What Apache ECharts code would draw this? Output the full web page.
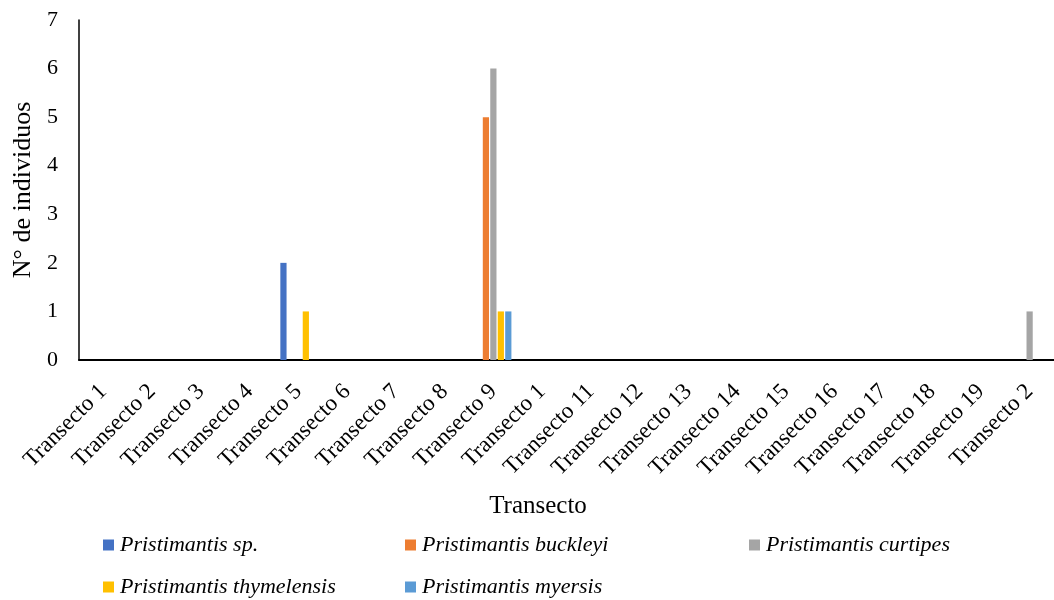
<!DOCTYPE html>
<html>
<head>
<meta charset="utf-8">
<script src="https://cdn.jsdelivr.net/npm/echarts@6/dist/echarts.min.js"></script>
<style>
html,body{margin:0;padding:0;background:#fff;}
#chart{width:1054px;height:600px;}
</style>
</head>
<body>
<div id="chart"></div>
<script>
const categories = ["Transecto 1","Transecto 2","Transecto 3","Transecto 4","Transecto 5","Transecto 6","Transecto 7","Transecto 8","Transecto 9","Transecto 1","Transecto 11","Transecto 12","Transecto 13","Transecto 14","Transecto 15","Transecto 16","Transecto 17","Transecto 18","Transecto 19","Transecto 2"];
const seriesNames = ["Pristimantis sp.","Pristimantis buckleyi","Pristimantis curtipes","Pristimantis thymelensis","Pristimantis myersis"];
const spValues        = [0,0,0,0,2,0,0,0,0,0,0,0,0,0,0,0,0,0,0,0];
const buckleyiValues  = [0,0,0,0,0,0,0,0,5,0,0,0,0,0,0,0,0,0,0,0];
const curtipesValues  = [0,0,0,0,0,0,0,0,6,0,0,0,0,0,0,0,0,0,0,1];
const thymelensisValues = [0,0,0,0,1,0,0,0,1,0,0,0,0,0,0,0,0,0,0,0];
const myersisValues   = [0,0,0,0,0,0,0,0,1,0,0,0,0,0,0,0,0,0,0,0];
const yTicks = [0,1,2,3,4,5,6,7];

const colors = ["#4472C4","#ED7D31","#A5A5A5","#FFC000","#5B9BD5"];
const allValues = [spValues,buckleyiValues,curtipesValues,thymelensisValues,myersisValues];
const font = "'Liberation Serif','Times New Roman',serif";

const legendPos = [[103,534],[405,534],[749,534],[103,576],[405,576]];

const chart = echarts.init(document.getElementById('chart'));
chart.setOption({
  animation:false,
  color: colors,
  textStyle:{fontFamily:font,color:'#000'},
  grid:{left:79, top:20, width:982, height:340, containLabel:false},
  title:{text:'Transecto', left:538, top:494, textAlign:'center', padding:0,
    textStyle:{fontFamily:font,fontSize:25,fontWeight:'normal',color:'#000'}},
  legend: seriesNames.map((n,i)=>({
    data:[n], left:legendPos[i][0], top:legendPos[i][1], padding:0,
    icon:'rect', itemWidth:11, itemHeight:11, itemGap:0,
    textStyle:{fontFamily:font,fontSize:22,fontStyle:'italic',color:'#000',padding:[0,0,0,1]}
  })),
  xAxis:{
    type:'category', data:categories, boundaryGap:true,
    axisLine:{lineStyle:{color:'#000',width:2}},
    axisTick:{show:false},
    axisLabel:{rotate:45, interval:0, fontFamily:font, fontSize:23, color:'#000', margin:28}
  },
  yAxis:{
    type:'value', min:0, max:7, interval:1,
    name:'N° de individuos', nameLocation:'middle', nameGap:42, nameRotate:90,
    nameTextStyle:{fontFamily:font,fontSize:26,color:'#000'},
    axisLine:{show:true,lineStyle:{color:'#000',width:1.5}},
    axisTick:{show:false},
    splitLine:{show:false},
    axisLabel:{fontFamily:font,fontSize:22,color:'#000',margin:21,
      formatter:v=>yTicks.includes(v)?String(v):''}
  },
  series: seriesNames.map((n,i)=>({
    name:n, type:'bar', data:allValues[i],
    barGap:'20%', barCategoryGap:'26%',
    itemStyle:{color:colors[i]}
  }))
});
</script>
</body>
</html>
